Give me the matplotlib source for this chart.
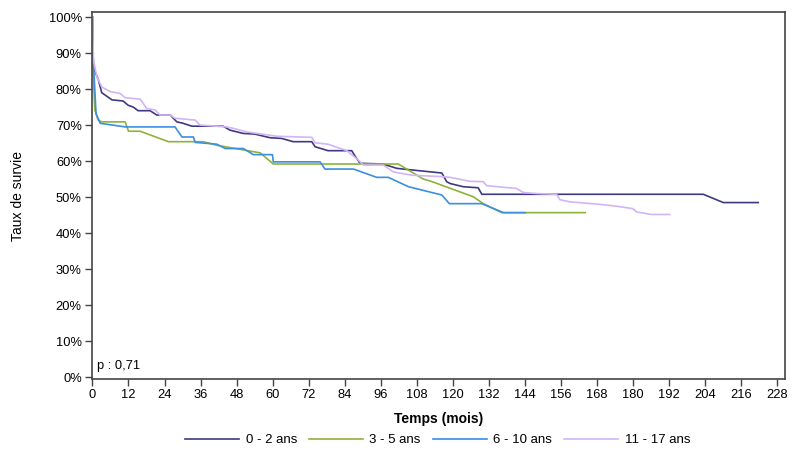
import matplotlib
matplotlib.use("Agg")
import matplotlib.pyplot as plt
from matplotlib.ticker import FuncFormatter

plt.rcParams['font.family'] = ['Liberation Sans', 'DejaVu Sans']

labels = ["0 - 2 ans", "3 - 5 ans", "6 - 10 ans", "11 - 17 ans"]
colors = ["#3d3a80", "#8db33a", "#3b8ee0", "#d2b4f7"]

t_0_2 = [0, 0.33, 2.0, 3.1, 6.5, 10.2, 11.9, 13.6, 15.2, 19.2, 21.4, 25.9, 28.1, 30.2, 33.1,
         43.5, 45.8, 50.1, 54.1, 59.1, 63.0, 66.8, 73.0, 74.1, 78.4, 86.3, 87.4, 89.1, 96.7,
         101.3, 104.6, 116.3, 117.9, 119.0, 123.4, 128.4, 129.6, 203.3, 210.0, 221.6]
s_0_2 = [100, 86, 82.5, 79, 77, 76.7, 75.5, 75, 74, 74, 72.8, 72.8, 70.9, 70.5, 69.7,
         69.7, 68.6, 67.7, 67.5, 66.5, 66.3, 65.4, 65.4, 64, 62.9, 62.9, 61.4, 59.4, 59.2,
         58, 57.7, 56.7, 54.3, 53.8, 52.9, 52.6, 50.8, 50.8, 48.5, 48.5]

t_3_5 = [0, 0.13, 0.23, 0.8, 1.9, 3.1, 10.9, 12.0, 15.9, 25.3, 36.9, 41.4, 55.8, 56.4, 60.2,
         101.8, 105.2, 110.2, 112.4, 126.8, 130.1, 136.2, 164.0]
s_3_5 = [100, 88, 85.3, 74.2, 71.4, 70.9, 70.9, 68.3, 68.3, 65.4, 65.4, 64.4, 62.3, 61.9, 59.2,
         59.2, 57.5, 55, 54.5, 50.1, 48.2, 45.7, 45.7]

t_6_10 = [0, 0.13, 1.2, 2.6, 10.9, 27.5, 29.8, 33.6, 34.2, 41.4, 44.2, 50.2, 53.6, 59.9, 60.2,
          75.8, 77.4, 86.9, 94.6, 98.5, 105.2, 116.3, 118.8, 129.6, 136.8, 144.0]
s_6_10 = [100, 90.8, 73.2, 70.5, 69.5, 69.5, 66.7, 66.7, 65.2, 64.7, 63.5, 63.5, 61.8, 61.8, 59.8,
          59.8, 57.8, 57.8, 55.5, 55.5, 52.9, 50.6, 48.2, 48.2, 45.7, 45.7]

t_11_17 = [0, 0.33, 1.5, 3.1, 5.9, 9.2, 10.9, 15.9, 18.1, 20.9, 22.5, 25.9, 27.5, 34.2, 35.8,
           44.7, 46.9, 51.4, 61.4, 73.0, 74.1, 78.4, 84.7, 88.5, 90.2, 96.8, 100.2, 106.3,
           116.3, 119.0, 125.7, 130.1, 131.2, 141.2, 143.4, 147.9, 154.5, 155.6, 158.9, 168.9,
           174.4, 179.9, 181.1, 186.0, 192.1]
s_11_17 = [100, 88, 83.4, 80.6, 79.3, 78.8, 77.6, 77.2, 74.6, 74.2, 72.8, 72.8, 71.9, 71.4, 70,
           69.5, 69.1, 68.1, 66.9, 66.6, 65.1, 64.7, 62.9, 60.3, 58.9, 58.9, 57, 56.1,
           55.7, 55.5, 54.4, 54.3, 53.2, 52.4, 51.3, 51, 50.8, 49.3, 48.7, 48,
           47.5, 46.8, 45.9, 45.2, 45.2]

xticks = list(range(0, 229, 12))
yticks = list(range(0, 101, 10))
p_text = "p : 0,71"

fig = plt.figure(figsize=(8, 4.57), dpi=100)
ax = fig.add_axes([0.1144, 0.1707, 0.9812 - 0.1144, 0.973 - 0.1707])

series = [(t_0_2, s_0_2), (t_3_5, s_3_5), (t_6_10, s_6_10), (t_11_17, s_11_17)]
for (t, s), c, lab in zip(series, colors, labels):
    ax.plot(t, s, color=c, lw=1.2, label=lab)

ax.set_xlim(-0.3, 230.5)
ax.set_ylim(-0.47, 101.3)
ax.set_xticks(xticks)
ax.set_yticks(yticks)
ax.yaxis.set_major_formatter(FuncFormatter(lambda v, p: f"{int(v)}%"))
ax.tick_params(direction='out', length=5, width=1, color='#444444', labelsize=9.3, pad=2)
for sp in ax.spines.values():
    sp.set_color('#444444')
    sp.set_linewidth(1.2)

ax.set_xlabel("Temps (mois)", fontsize=10, fontweight='bold', labelpad=8)
ax.set_ylabel("Taux de survie", fontsize=10, labelpad=17)
ax.text(0.008, 0.018, p_text, transform=ax.transAxes, fontsize=9.3, ha='left', va='bottom')

fig.legend(loc='center', bbox_to_anchor=(0.547, 0.037), ncol=4, frameon=False,
           fontsize=9.5, handlelength=4.1, columnspacing=0.9, handletextpad=0.5)

fig.savefig("out.png", dpi=100)
